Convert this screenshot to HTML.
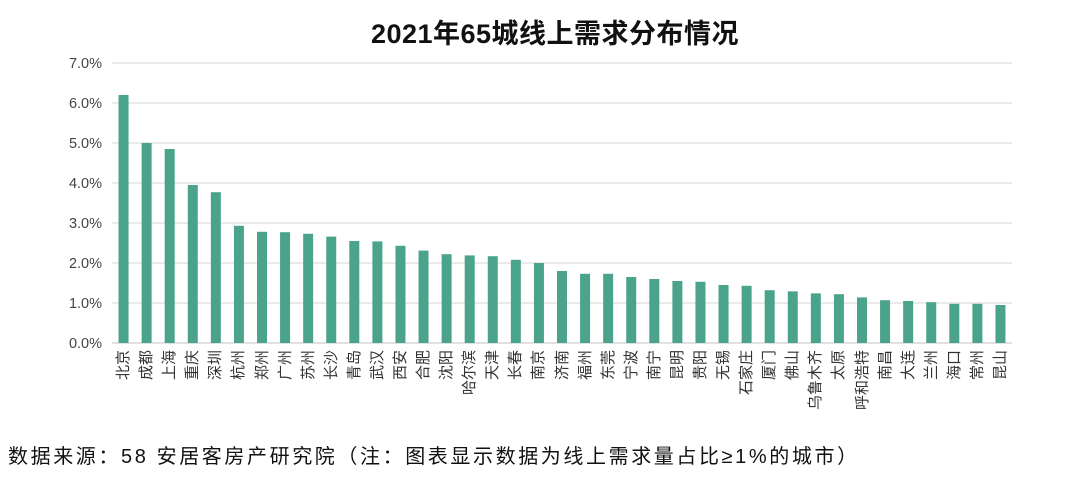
<!DOCTYPE html>
<html><head><meta charset="utf-8">
<style>
body{margin:0;width:1066px;height:480px;background:#fff;overflow:hidden;font-family:"Liberation Sans","Noto Sans CJK SC",sans-serif;}
#wrap{position:relative;width:1066px;height:480px;}
.title{position:absolute;left:0;width:1110px;top:12px;text-align:center;font-size:27px;font-weight:bold;color:#111;letter-spacing:0.5px;}
.foot{position:absolute;left:8px;top:440px;font-size:20px;color:#111;letter-spacing:2.6px;white-space:nowrap;}
.xl{position:absolute;top:350px;transform-origin:0 0;transform:rotate(-90deg) translateX(-100%);font-size:15px;color:#333;line-height:15px;white-space:nowrap;}
</style></head><body>
<div id="wrap">
<div class="title">2021年65城线上需求分布情况</div>
<svg id="chart" width="1066" height="480" style="position:absolute;left:0;top:0"></svg>
<div id="labels"></div>
<div class="foot">数据来源：58 安居客房产研究院（注：图表显示数据为线上需求量占比≥1%的城市）</div>
</div>
<script>
const categories=["北京","成都","上海","重庆","深圳","杭州","郑州","广州","苏州","长沙","青岛","武汉","西安","合肥","沈阳","哈尔滨","天津","长春","南京","济南","福州","东莞","宁波","南宁","昆明","贵阳","无锡","石家庄","厦门","佛山","乌鲁木齐","太原","呼和浩特","南昌","大连","兰州","海口","常州","昆山"];
const values=[6.2,5.0,4.85,3.95,3.77,2.93,2.78,2.77,2.73,2.66,2.55,2.54,2.43,2.31,2.22,2.19,2.17,2.08,2.0,1.8,1.73,1.73,1.65,1.6,1.55,1.53,1.45,1.43,1.32,1.29,1.24,1.22,1.14,1.07,1.05,1.02,0.98,0.98,0.95];
const ticks=[0,1,2,3,4,5,6,7];
const tickLabels=["0.0%","1.0%","2.0%","3.0%","4.0%","5.0%","6.0%","7.0%"];
const NS="http://www.w3.org/2000/svg";
const svg=document.getElementById('chart');
const L=112,R=1012,Y0=343,Y7=63;
const y=v=>Y0-(v/7)*(Y0-Y7);
const step=(R-L)/categories.length;
const x=i=>L+step*(i+0.5);
ticks.forEach((t,k)=>{
  const ln=document.createElementNS(NS,'line');
  
  
  ln.setAttribute('x1',L);ln.setAttribute('x2',R);ln.setAttribute('y1',y(t));ln.setAttribute('y2',y(t));
  ln.setAttribute('stroke',t===0?'#cfcfcf':'#dedede');ln.setAttribute('stroke-width','1.3');
  svg.appendChild(ln);
  const tx=document.createElementNS(NS,'text');
  
  
  tx.setAttribute('x',102);tx.setAttribute('y',y(t)+5);tx.setAttribute('text-anchor','end');
  tx.setAttribute('font-size','14.5');tx.setAttribute('fill','#444');
  tx.setAttribute('font-family','"Liberation Sans",sans-serif');
  tx.textContent=tickLabels[k];svg.appendChild(tx);
});
const labels=document.getElementById('labels');
values.forEach((v,i)=>{
  const r=document.createElementNS(NS,'rect');
  
  
  r.setAttribute('x',x(i)-5);r.setAttribute('width',10);
  r.setAttribute('y',y(v));r.setAttribute('height',Y0-y(v));
  r.setAttribute('fill','#4aa38b');
  svg.appendChild(r);
  const d=document.createElement('div');
  d.className='xl';
  
  
  d.style.left=(x(i)-7.5)+'px';
  d.textContent=categories[i];
  labels.appendChild(d);
});
</script>
</body></html>
